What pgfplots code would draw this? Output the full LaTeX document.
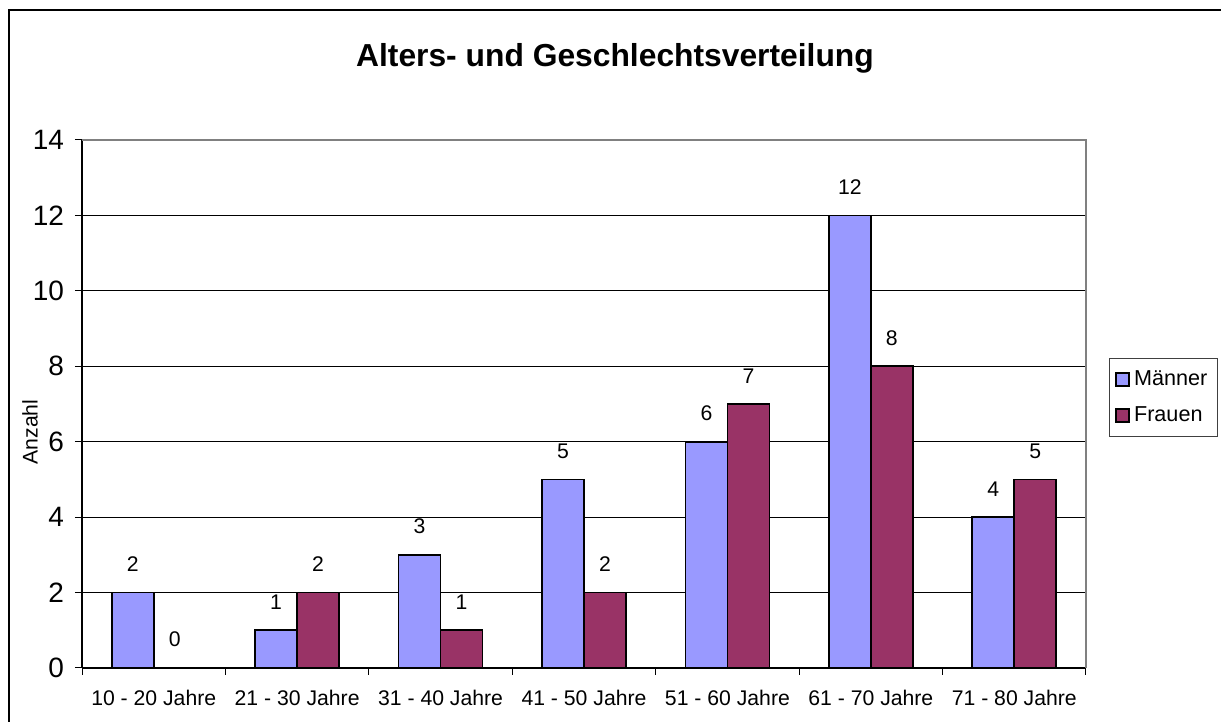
\documentclass[border=0pt]{standalone}
\usepackage{fontspec}
\setmainfont{Liberation Sans}
\usepackage{pgfplots}
\pgfplotsset{compat=1.18}
\definecolor{maenner}{HTML}{9999FF}
\definecolor{frauen}{HTML}{993366}
\begin{document}
\begin{tikzpicture}
\path[use as bounding box] (0pt,0pt) rectangle (610.5pt,361pt);
\draw[line width=1pt] (4.5pt,0pt) -- (4.5pt,356pt) -- (612pt,356pt);
\begin{axis}[at={(41pt,27pt)}, anchor=south west, scale only axis,
  width=502pt, height=264pt,
  ybar=0pt, bar width=21pt,
  xmin=-0.5, xmax=6.5, ymin=0, ymax=14,
  xtick={0,...,6},
  xticklabels={10 - 20 Jahre,21 - 30 Jahre,31 - 40 Jahre,41 - 50 Jahre,51 - 60 Jahre,61 - 70 Jahre,71 - 80 Jahre},
  major x tick style={draw=none},
  minor xtick={-0.5,0.5,...,6.5},
  ytick={0,2,...,14},
  ymajorgrids, major grid style={black, line width=0.5pt},
  axis x line*=bottom, axis y line*=left,
  axis line style={black, line width=0.7pt, -},
  tick align=outside, major tick length=3.5pt, minor tick length=3.5pt,
  tick style={black, line width=0.5pt},
  /pgf/number format/assume math mode=true,
  yticklabel style={font=\fontsize{14}{16}\selectfont, xshift=-2pt},
  xticklabel style={font=\fontsize{10.6}{12}\selectfont, yshift=-4pt},
  clip=false,
  nodes near coords,
  every node near coord/.append style={font=\fontsize{10.6}{12}\selectfont, inner sep=0pt, yshift=10pt, text=black},
  legend style={at={(1.0229,0.587)}, anchor=north west, draw=black!75, line width=0.5pt,
    font=\fontsize{10.8}{12}\selectfont, inner xsep=3pt, inner ysep=4pt, row sep=5pt},
  legend cell align=left,
  every axis plot post/.append style={legend image code/.code={\draw[#1, line width=0.8pt] (0pt,-3.25pt) rectangle (6.5pt,3.25pt);}},
]
\addplot[fill=maenner, draw=black, line width=0.9pt] coordinates {(0,2) (1,1) (2,3) (3,5) (4,6) (5,12) (6,4)};
\addplot[fill=frauen, draw=black, line width=0.9pt] coordinates {(0,0) (1,2) (2,1) (3,2) (4,7) (5,8) (6,5)};
\legend{Männer,Frauen}
\draw[color=gray, line width=0.7pt] (rel axis cs:0,1) -- (rel axis cs:1,1) -- (rel axis cs:1,0);
\end{axis}
\node[font=\bfseries\fontsize{15.9}{19}\selectfont] at (307.5pt,332pt) {Alters- und Geschlechtsverteilung};
\node[rotate=90, font=\fontsize{10.6}{12}\selectfont] at (15pt,145pt) {Anzahl};
\end{tikzpicture}
\end{document}
